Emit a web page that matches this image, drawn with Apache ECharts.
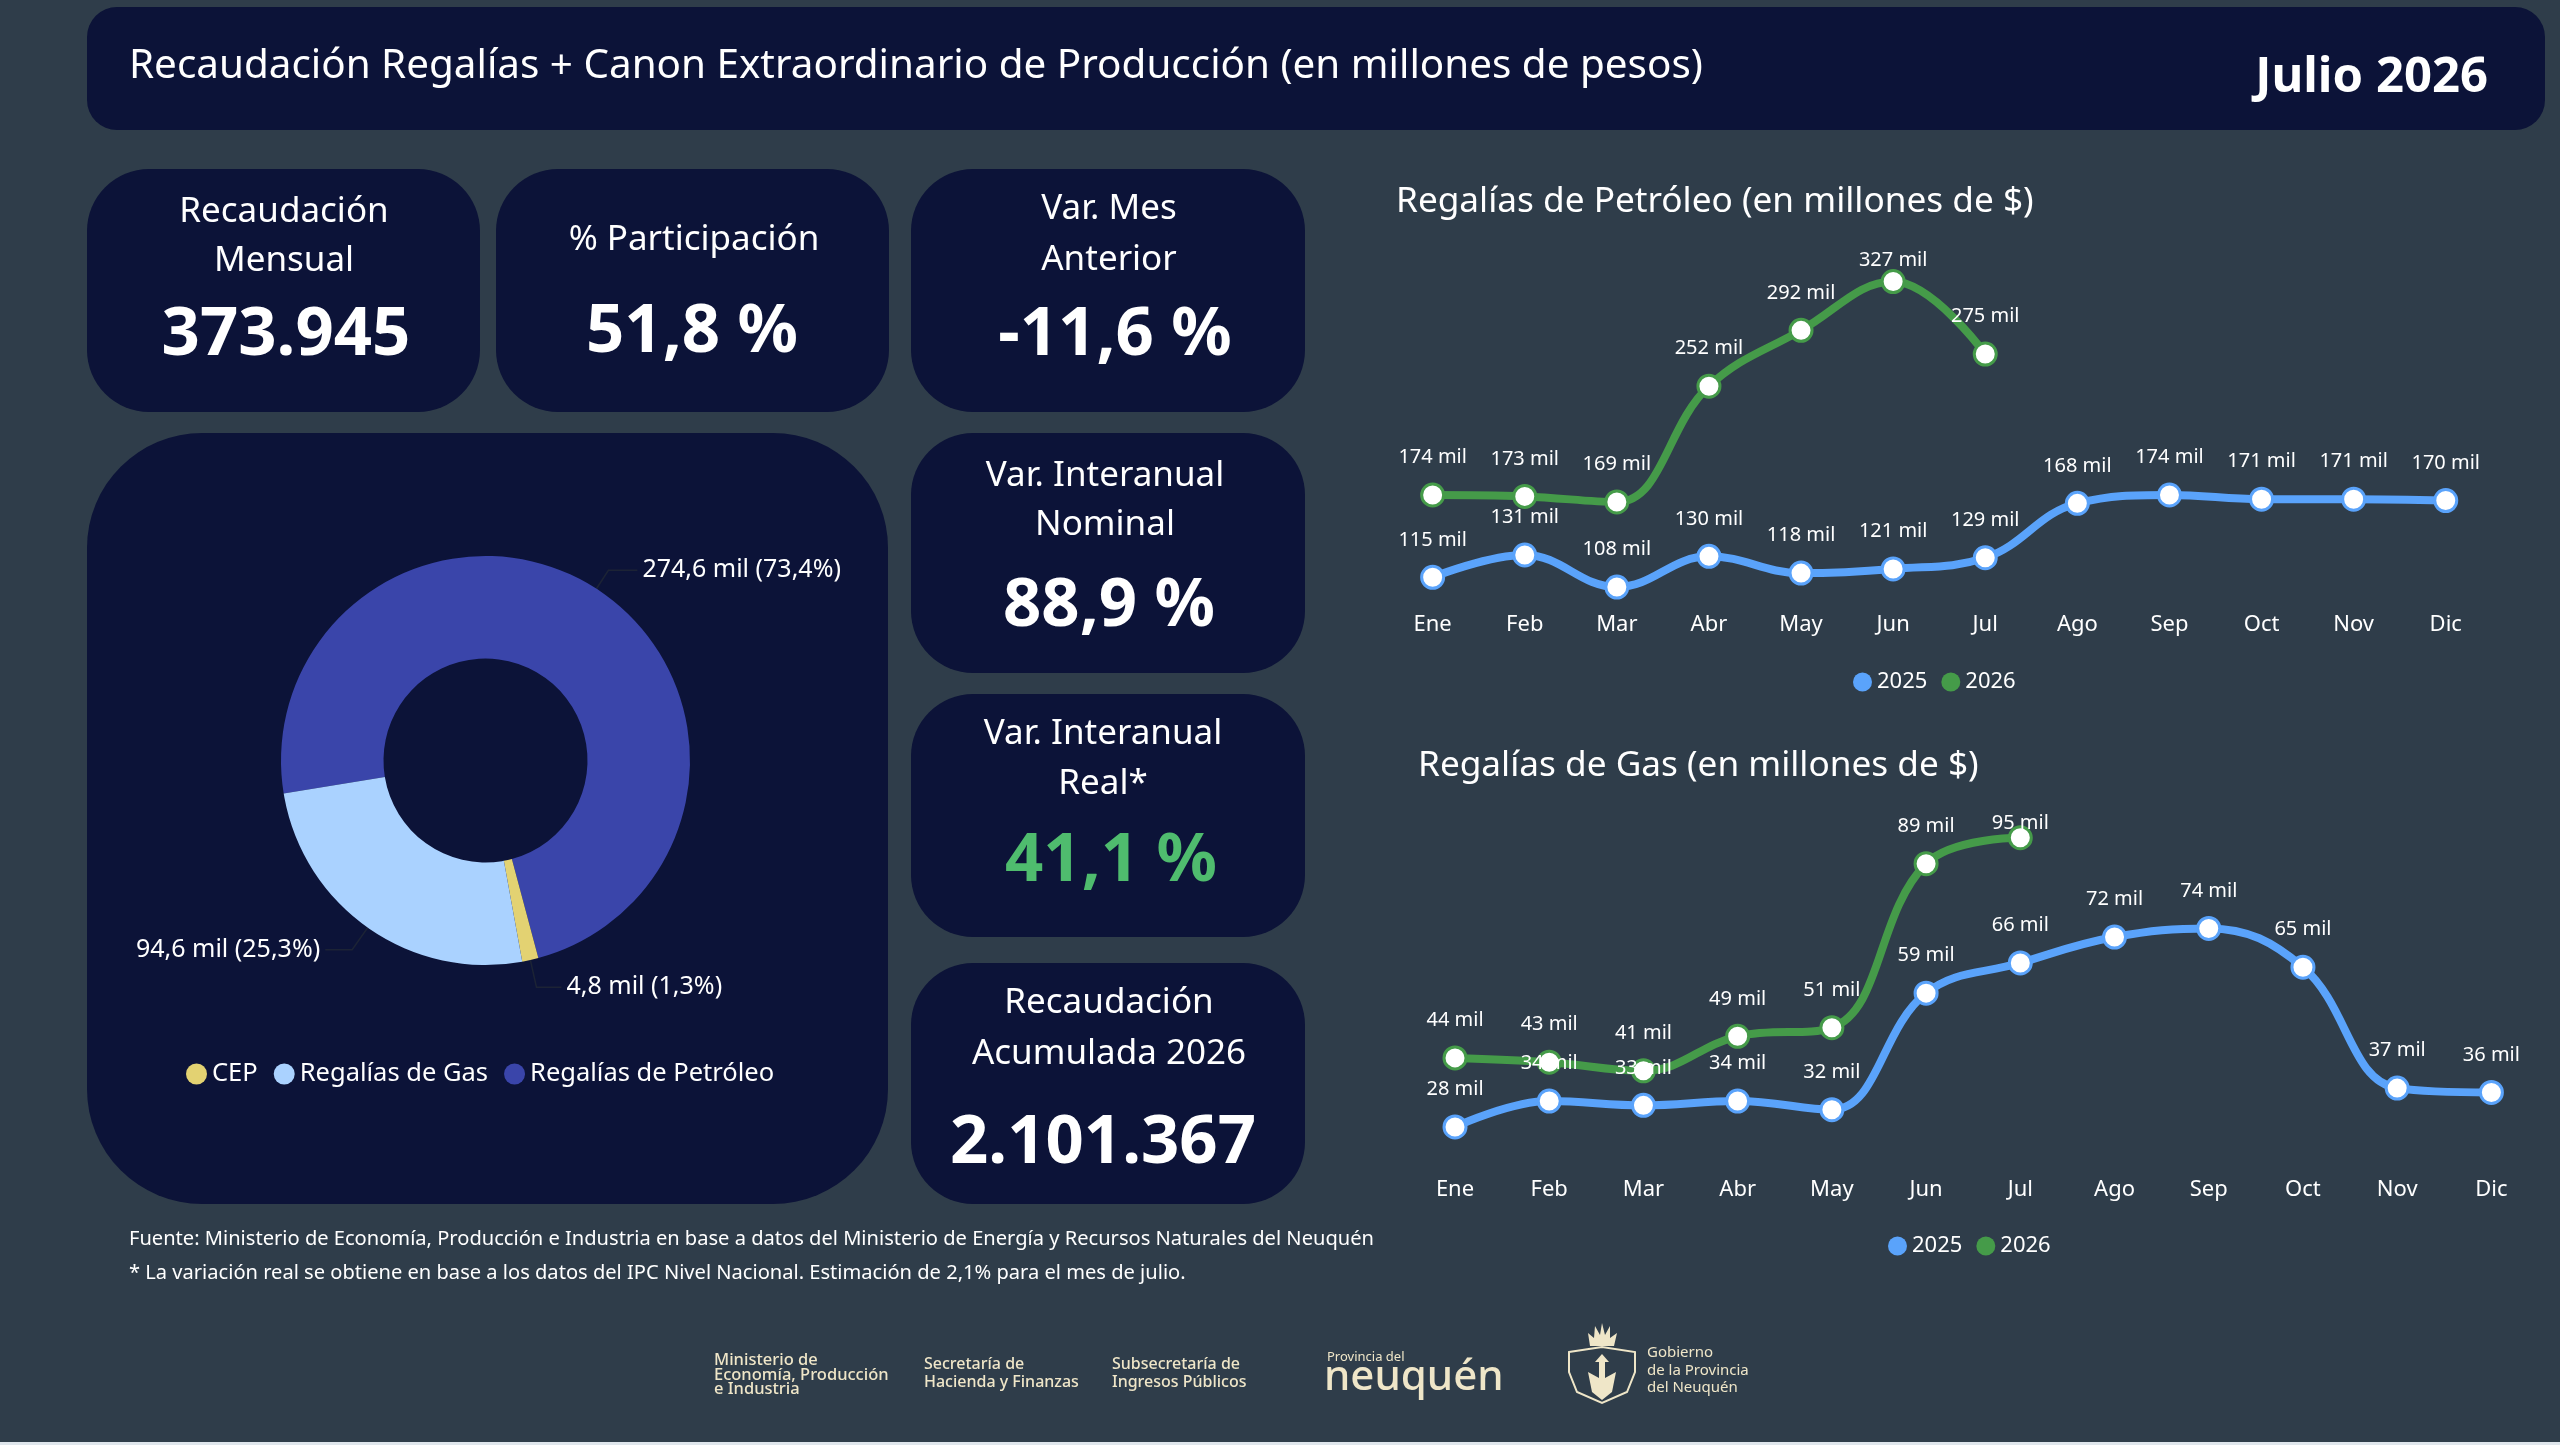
<!DOCTYPE html>
<html><head><meta charset="utf-8">
<style>html,body{margin:0;padding:0;background:#2f3d4a;overflow:hidden}#c{width:2560px;height:1445px}</style>
<script src="https://cdn.jsdelivr.net/npm/echarts@6/dist/echarts.min.js"></script>
</head><body><div id="c"></div>
<script>
const months = ["Ene","Feb","Mar","Abr","May","Jun","Jul","Ago","Sep","Oct","Nov","Dic"];
const oil2025 = [115,131,108,130,118,121,129,168,174,171,171,170];
const oil2026 = [174,173,169,252,292,327,275];
const gas2025 = [28,34,33,34,32,59,66,72,74,65,37,36];
const gas2026 = [44,43,41,49,51,89,95];
const pieNames = ["Regalías de Petróleo","CEP","Regalías de Gas"];
const pieValues = [274.6,4.8,94.6];
const pieLegendOrder = ["CEP","Regalías de Gas","Regalías de Petróleo"];
const mainTitle = "Recaudación Regalías + Canon Extraordinario de Producción (en millones de pesos)";
const periodLabel = "Julio 2026";
const oilTitle = "Regalías de Petróleo (en millones de $)";
const gasTitle = "Regalías de Gas (en millones de $)";
const cardLabels = [["Recaudación","Mensual"],["% Participación"],["Var. Mes","Anterior"],["Var. Interanual","Nominal"],["Var. Interanual","Real*"],["Recaudación","Acumulada 2026"]];
const cardValues = ["373.945","51,8 %","-11,6 %","88,9 %","41,1 %","2.101.367"];
const footerLines = ["Fuente: Ministerio de Economía, Producción e Industria en base a datos del Ministerio de Energía y Recursos Naturales del Neuquén","* La variación real se obtiene en base a los datos del IPC Nivel Nacional. Estimación de 2,1% para el mes de julio."];

const BG="#2f3d4a", NAVY="#0c1338", BLUE="#5aa3fb", GREEN="#459b49", CREAM="#efe6c8";
const FONT='"Noto Sans", sans-serif';
const cardBoxes=[[87,169,393,243],[496,169,393,243],[911,169,394,243],[911,433,394,240],[911,694,394,243],[911,963,394,241]];
const cardText=[
 {x:284,l:[212,261],v:[286,336]},{x:694,l:[240],v:[692,333]},{x:1109,l:[209,260],v:[1115,336]},
 {x:1105,l:[476,525],v:[1109,607]},{x:1103,l:[734,784],v:[1111,862]},{x:1109,l:[1003,1054],v:[1103,1144]}];
const g=[];
const rect=(x,y,w,h,r,fill)=>g.push({type:'rect',silent:true,shape:{x,y,width:w,height:h,r},style:{fill}});
const txt=(t,x,y,font,fill,align)=>g.push({type:'text',silent:true,x,y,style:{text:t,fill:fill||'#fff',font:font+' '+FONT,align:align||'center',verticalAlign:'middle'}});
rect(87,7,2458,123,30,NAVY);
rect(87,433,801,771,115,NAVY);
cardBoxes.forEach((b,i)=>rect(b[0],b[1],b[2],b[3],62,NAVY));
cardLabels.forEach((ls,i)=>{
  const p=cardText[i];
  ls.forEach((t,k)=>txt(t,p.x,p.l[k],'35px'));
  txt(cardValues[i],p.v[0],p.v[1],'bold 67px',i===4?'#4fbc6e':'#fff');
});
txt(periodLabel,2488,78,'bold 49px','#fff','right');
footerLines.forEach((t,i)=>txt(t,129,[1239,1273][i],'20.1px','#fff','left'));
const logo=(t,x,y,f)=>txt(t,x,y,f,CREAM,'left');
logo("Ministerio de",714,1360,'500 16.5px');logo("Economía, Producción",714,1375,'500 16.5px');logo("e Industria",714,1389,'500 16.5px');
logo("Secretaría de",924,1364,'500 16px');logo("Hacienda y Finanzas",924,1382,'500 16px');
logo("Subsecretaría de",1112,1364,'500 16px');logo("Ingresos Públicos",1112,1382,'500 16px');
logo("Provincia del",1327,1357,'13px');logo("neuquén",1324,1378,'500 42px');
logo("Gobierno",1647,1353,'15px');logo("de la Provincia",1647,1371,'15px');logo("del Neuquén",1647,1388,'15px');
g.push({type:'polygon',silent:true,shape:{points:[[1590,1346],[1588,1333],[1594,1338],[1595,1326],[1600,1335],[1602,1323],[1605,1335],[1610,1326],[1610,1338],[1617,1333],[1614,1346]]},style:{fill:CREAM}});
g.push({type:'polygon',silent:true,shape:{points:[[1569,1352],[1602,1347],[1635,1352],[1635,1372],[1627,1392],[1602,1403],[1577,1392],[1569,1372]]},style:{fill:'none',stroke:CREAM,lineWidth:2}});
g.push({type:'polygon',silent:true,shape:{points:[[1602,1354],[1609,1362],[1605,1362],[1605,1378],[1616,1372],[1612,1392],[1602,1400],[1592,1392],[1588,1372],[1599,1378],[1599,1362],[1595,1362]]},style:{fill:CREAM}});
rect(0,1442,2560,3,0,'#dfe6ec');

function lineSeries(name,vals,color,gridIdx,farDist){
  return {name,type:'line',xAxisIndex:gridIdx,yAxisIndex:gridIdx,smooth:0.4,
    symbol:'circle',symbolSize:22,showSymbol:true,
    lineStyle:{color,width:8},
    itemStyle:{color:'#fff',borderColor:color,borderWidth:3},
    label:{show:true,position:'top',distance:15,color:'#fff',fontSize:20,fontFamily:FONT,formatter:p=>p.value+' mil'},
    labelLayout:{hideOverlap:false},
    data:vals.map((v,i)=>farDist&&farDist[0]===i?{value:v,label:{distance:farDist[1]}}:v)};
}
const axisX=(gi)=>({type:'category',gridIndex:gi,data:months,boundaryGap:true,axisLine:{show:false},axisTick:{show:false},splitLine:{show:false},
  axisLabel:{color:'#fff',fontSize:22,fontFamily:FONT,margin:9,interval:0}});
const axisY=(gi,min,max)=>({type:'value',gridIndex:gi,min,max,show:false,splitLine:{show:false}});
const yearLegend=(left,top)=>({left,top,itemWidth:19,itemHeight:19,itemGap:14,icon:'circle',selectedMode:false,
  data:[{name:'2025',itemStyle:{color:BLUE,borderWidth:0}},{name:'2026',itemStyle:{color:GREEN,borderWidth:0}}],
  textStyle:{color:'#fff',fontSize:22,fontFamily:FONT}});

const chart=echarts.init(document.getElementById('c'),null,{renderer:'canvas',width:2560,height:1445});
chart.setOption({
  animation:false,backgroundColor:BG,
  color:[BLUE,GREEN],
  graphic:{elements:g},
  title:[
    {text:mainTitle,left:129,top:46,padding:0,textStyle:{color:'#fff',fontSize:40.4,fontWeight:400,fontFamily:FONT}},
    {text:oilTitle,left:1396,top:184,padding:0,textStyle:{color:'#fff',fontSize:35.2,fontWeight:400,fontFamily:FONT}},
    {text:gasTitle,left:1418,top:748,padding:0,textStyle:{color:'#fff',fontSize:35.2,fontWeight:400,fontFamily:FONT}}
  ],
  grid:[{left:1386.6,top:263.4,width:1105.2,height:341.8},{left:1407.9,top:816.2,width:1130.6,height:353.9}],
  xAxis:[axisX(0),axisX(1)],
  yAxis:[axisY(0,95,340),axisY(1,18,100)],
  legend:[
    yearLegend(1848,666),
    yearLegend(1883,1230),
    {left:181,top:1056,itemWidth:21,itemHeight:21,itemGap:16,icon:'circle',selectedMode:false,data:pieLegendOrder,textStyle:{color:'#fff',fontSize:25.5,fontFamily:FONT}}
  ],
  series:[
    lineSeries('2025',oil2025,BLUE,0),
    lineSeries('2026',oil2026,GREEN,0,[5,-1]),
    lineSeries('2025',gas2025,BLUE,1),
    lineSeries('2026',gas2026,GREEN,1,[6,-8]),
    {type:'pie',center:[485.5,760.5],radius:[102,204.5],startAngle:189.3,clockwise:true,percentPrecision:1,
     silent:true,avoidLabelOverlap:false,
     label:{color:'#fff',fontSize:25,fontFamily:FONT,
       formatter:p=>(p.value.toFixed(1)+' mil ('+p.percent.toFixed(1)+'%)').replace(/\./g,',')},
     labelLine:{show:true,lineStyle:{color:'#1c2335',width:1.5}},
     data:pieNames.map((name,i)=>({name,value:pieValues[i],itemStyle:{color:['#3a45aa','#e3d272','#aad2ff'][i]},
       labelLine:{length:[22,28,27][i],length2:[29,25,27][i]}}))}
  ]
});
</script></body></html>
